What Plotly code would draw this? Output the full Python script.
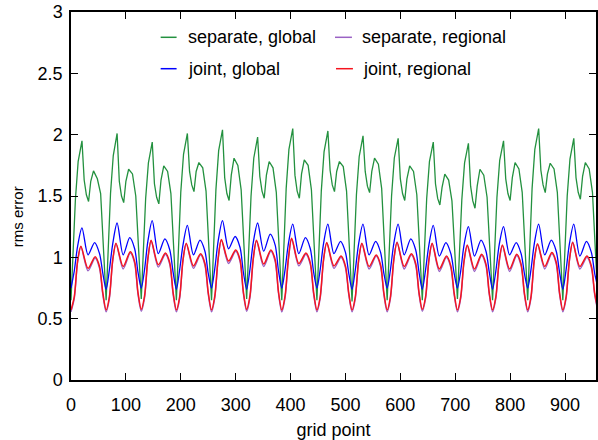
import plotly.graph_objects as go

# Grid points are grouped in regions of 64; each list below holds one value per region.
REGION = 64
N_REGIONS = 15

# separate, global (green)
g_min = [0.65, 0.65, 0.66, 0.65, 0.65, 0.66, 0.65, 0.65, 0.64, 0.65, 0.65, 0.66, 0.65, 0.65, 0.65, 0.64]
g_r8 = [1.47, 1.52, 1.48, 1.53, 1.55, 1.50, 1.56, 1.54, 1.51, 1.50, 1.48, 1.47, 1.49, 1.56, 1.50]
g_r13 = [1.78, 1.83, 1.77, 1.84, 1.87, 1.81, 1.88, 1.86, 1.82, 1.81, 1.78, 1.77, 1.79, 1.88, 1.80]
g_peak = [1.95, 2.01, 1.94, 2.01, 2.04, 1.98, 2.05, 2.03, 1.99, 1.97, 1.94, 1.93, 1.95, 2.05, 1.97]
g_f24 = [1.63, 1.62, 1.60, 1.70, 1.65, 1.66, 1.67, 1.71, 1.70, 1.64, 1.60, 1.58, 1.64, 1.71, 1.65]
g_f28 = [1.51, 1.50, 1.49, 1.59, 1.52, 1.54, 1.54, 1.59, 1.58, 1.52, 1.48, 1.46, 1.52, 1.59, 1.53]
g_dip = [1.455, 1.446, 1.436, 1.536, 1.463, 1.482, 1.482, 1.536, 1.528, 1.463, 1.427, 1.40, 1.463, 1.528, 1.474]
g_r36 = [1.62, 1.62, 1.63, 1.70, 1.67, 1.67, 1.68, 1.70, 1.70, 1.64, 1.57, 1.58, 1.65, 1.68, 1.66]
g_hump = [1.705, 1.718, 1.745, 1.773, 1.808, 1.781, 1.794, 1.781, 1.808, 1.745, 1.678, 1.718, 1.773, 1.767, 1.773]
g_s48 = [1.64, 1.68, 1.70, 1.73, 1.75, 1.73, 1.75, 1.74, 1.76, 1.70, 1.63, 1.67, 1.72, 1.72, 1.72]
g_d54 = [1.52, 1.50, 1.52, 1.54, 1.55, 1.53, 1.55, 1.54, 1.56, 1.51, 1.46, 1.49, 1.53, 1.53, 1.53]
g_offsets = [0, 8, 13, 20, 24, 28, 32, 36, 41, 48, 54]

# separate, regional (purple)
p_min = [0.555, 0.555, 0.56, 0.555, 0.555, 0.56, 0.555, 0.555, 0.555, 0.555, 0.56, 0.555, 0.555, 0.555, 0.555, 0.555]
p_r6 = [0.665, 0.665, 0.67, 0.665, 0.67, 0.67, 0.67, 0.665, 0.665, 0.665, 0.665, 0.665, 0.665, 0.665, 0.665]
p_r12 = [0.96, 0.97, 0.98, 0.97, 0.98, 0.98, 0.98, 0.97, 0.97, 0.97, 0.97, 0.96, 0.96, 0.97, 0.97]
p_peak = [1.085, 1.11, 1.135, 1.11, 1.14, 1.135, 1.15, 1.12, 1.11, 1.125, 1.11, 1.095, 1.095, 1.105, 1.125]
p_dip = [0.89, 0.905, 0.92, 0.91, 0.95, 0.925, 0.93, 0.91, 0.905, 0.905, 0.885, 0.885, 0.885, 0.905, 0.905]
p_hump = [0.995, 1.035, 1.025, 1.02, 1.05, 1.05, 1.025, 1.0, 1.01, 1.02, 1.0, 1.015, 1.015, 1.03, 1.0]
p_d52 = [0.91, 0.95, 0.94, 0.935, 0.965, 0.965, 0.94, 0.915, 0.925, 0.935, 0.915, 0.93, 0.93, 0.945, 0.915]
p_d58 = [0.695, 0.70, 0.70, 0.70, 0.705, 0.705, 0.70, 0.695, 0.695, 0.70, 0.695, 0.695, 0.695, 0.70, 0.695]

# joint, global (blue)
b_min = [0.75, 0.74, 0.75, 0.74, 0.75, 0.74, 0.75, 0.75, 0.74, 0.75, 0.74, 0.75, 0.74, 0.75, 0.74, 0.75]
b_r6 = [0.89, 0.90, 0.90, 0.90, 0.91, 0.90, 0.90, 0.90, 0.90, 0.90, 0.90, 0.89, 0.89, 0.90, 0.90]
b_r12 = [1.09, 1.11, 1.13, 1.10, 1.13, 1.12, 1.11, 1.11, 1.11, 1.11, 1.10, 1.10, 1.10, 1.11, 1.11]
b_peak = [1.24, 1.28, 1.30, 1.26, 1.30, 1.28, 1.27, 1.27, 1.27, 1.27, 1.26, 1.25, 1.25, 1.27, 1.27]
b_dip = [1.02, 1.02, 1.03, 1.02, 1.07, 1.05, 1.03, 1.03, 1.02, 1.02, 1.01, 1.01, 1.02, 1.02, 1.01]
b_hump = [1.12, 1.16, 1.15, 1.14, 1.17, 1.19, 1.16, 1.13, 1.13, 1.15, 1.12, 1.14, 1.12, 1.14, 1.13]
b_d52 = [1.03, 1.07, 1.06, 1.05, 1.08, 1.10, 1.07, 1.04, 1.04, 1.06, 1.03, 1.05, 1.03, 1.05, 1.04]
b_d58 = [0.87, 0.88, 0.88, 0.87, 0.88, 0.89, 0.88, 0.87, 0.87, 0.88, 0.87, 0.88, 0.87, 0.88, 0.87]

# joint, regional (red)
r_min = [0.57, 0.57, 0.575, 0.57, 0.57, 0.575, 0.57, 0.57, 0.57, 0.57, 0.575, 0.57, 0.57, 0.57, 0.57, 0.57]
r_r6 = [0.68, 0.68, 0.685, 0.68, 0.685, 0.685, 0.685, 0.68, 0.68, 0.68, 0.68, 0.68, 0.68, 0.68, 0.68]
r_r12 = [0.97, 0.98, 0.99, 0.98, 0.99, 0.99, 0.99, 0.98, 0.98, 0.98, 0.98, 0.97, 0.97, 0.98, 0.98]
r_peak = [1.09, 1.115, 1.14, 1.115, 1.145, 1.14, 1.155, 1.12, 1.115, 1.12, 1.115, 1.10, 1.10, 1.11, 1.12]
r_dip = [0.91, 0.925, 0.94, 0.93, 0.97, 0.945, 0.95, 0.93, 0.925, 0.925, 0.905, 0.905, 0.905, 0.925, 0.925]
r_hump = [1.005, 1.045, 1.035, 1.03, 1.06, 1.06, 1.035, 1.01, 1.02, 1.03, 1.01, 1.025, 1.025, 1.04, 1.01]
r_d52 = [0.925, 0.965, 0.955, 0.95, 0.98, 0.98, 0.955, 0.93, 0.94, 0.95, 0.93, 0.945, 0.945, 0.96, 0.93]
r_d58 = [0.71, 0.715, 0.715, 0.715, 0.72, 0.72, 0.715, 0.71, 0.71, 0.715, 0.71, 0.71, 0.71, 0.715, 0.71]
rb_offsets = [0, 6, 12, 18, 31, 44, 52, 58]
b_offsets = [0, 6, 12, 20, 31, 43, 52, 58]

x_ticks = [0, 100, 200, 300, 400, 500, 600, 700, 800, 900]
y_ticks = [0, 0.5, 1, 1.5, 2, 2.5, 3]
y_tick_text = ["0", "0.5", "1", "1.5", "2", "2.5", "3"]


def build(offsets, columns, minima):
    """Assemble x/y arrays region by region, closing with the last minimum."""
    xs, ys = [], []
    for k in range(N_REGIONS):
        vals = [minima[k]] + [col[k] for col in columns]
        for off, v in zip(offsets, vals):
            xs.append(k * REGION + off)
            ys.append(v)
    xs.append(N_REGIONS * REGION)
    ys.append(minima[N_REGIONS])
    return xs, ys


gx, gy = build(g_offsets, [g_r8, g_r13, g_peak, g_f24, g_f28, g_dip, g_r36, g_hump, g_s48, g_d54], g_min)
px, py = build(rb_offsets, [p_r6, p_r12, p_peak, p_dip, p_hump, p_d52, p_d58], p_min)
bx, by = build(b_offsets, [b_r6, b_r12, b_peak, b_dip, b_hump, b_d52, b_d58], b_min)
rx, ry = build(rb_offsets, [r_r6, r_r12, r_peak, r_dip, r_hump, r_d52, r_d58], r_min)

GREEN = "#23913f"
PURPLE = "#9a62c4"
BLUE = "#0000ff"
RED = "#f5141e"

series = [
    ("separate, global", gx, gy, GREEN, "linear", 1.3),
    ("separate, regional", px, py, PURPLE, "spline", 1.4),
    ("joint, global", bx, by, BLUE, "spline", 1.3),
    ("joint, regional", rx, ry, RED, "spline", 1.5),
]

fig = go.Figure()
for name, xs, ys, color, shape, width in series:
    fig.add_trace(go.Scatter(
        x=xs, y=ys, mode="lines", name=name, showlegend=False,
        line=dict(color=color, width=width, shape=shape, smoothing=0.8),
    ))

FONT = "Liberation Sans, Arial, Helvetica, sans-serif"

# Plot area in pixels: left 71, right 598, top 12, bottom 380
L, R, T, B = 71, 598, 12, 380


def paper_x(p):
    return (p - L) / (R - L)


def paper_y(p):
    return (B - p) / (B - T)


# Two-column key drawn inside the plot area
key = [
    ("separate, global", GREEN, 161, 177, 186, 37.3),
    ("separate, regional", PURPLE, 336, 353, 361, 37.3),
    ("joint, global", BLUE, 161, 177, 186, 68.7),
    ("joint, regional", RED, 337, 354, 362, 68.7),
]
for label, color, lx0, lx1, tx, ty in key:
    fig.add_shape(type="line", xref="paper", yref="paper",
                  x0=paper_x(lx0), x1=paper_x(lx1), y0=paper_y(ty), y1=paper_y(ty),
                  line=dict(color=color, width=1.5))
    fig.add_annotation(text=label, xref="paper", yref="paper",
                       x=paper_x(tx), y=paper_y(ty), xanchor="left", yanchor="middle",
                       showarrow=False, font=dict(family=FONT, size=18, color="black"))

fig.add_annotation(text="rms error", xref="paper", yref="paper",
                   x=paper_x(17), y=paper_y(217), xanchor="center", yanchor="middle",
                   textangle=-90, showarrow=False,
                   font=dict(family=FONT, size=15, color="black"))

fig.update_layout(
    width=598, height=440,
    margin=dict(l=L, r=598 - R, t=T, b=440 - B, pad=0),
    paper_bgcolor="white", plot_bgcolor="white",
    font=dict(family=FONT, size=18, color="black"),
    xaxis=dict(
        range=[0, (R - L) / 0.551], tickvals=x_ticks, ticks="inside", ticklen=7,
        tickwidth=1, tickcolor="black", showline=True, linecolor="black", linewidth=1.5,
        mirror="ticks", showgrid=False, zeroline=False,
        tickfont=dict(family=FONT, size=18, color="black"),
        ticklabelstandoff=8,
        title=dict(text="grid point", font=dict(family=FONT, size=18), standoff=10),
    ),
    yaxis=dict(
        range=[0, 3], tickvals=y_ticks, ticktext=y_tick_text, ticks="inside", ticklen=7,
        tickwidth=1, tickcolor="black", showline=True, linecolor="black", linewidth=1.5,
        mirror="ticks", showgrid=False, zeroline=False,
        tickfont=dict(family=FONT, size=18, color="black"),
        ticklabelstandoff=3,
    ),
)

fig.write_html("out.html")
